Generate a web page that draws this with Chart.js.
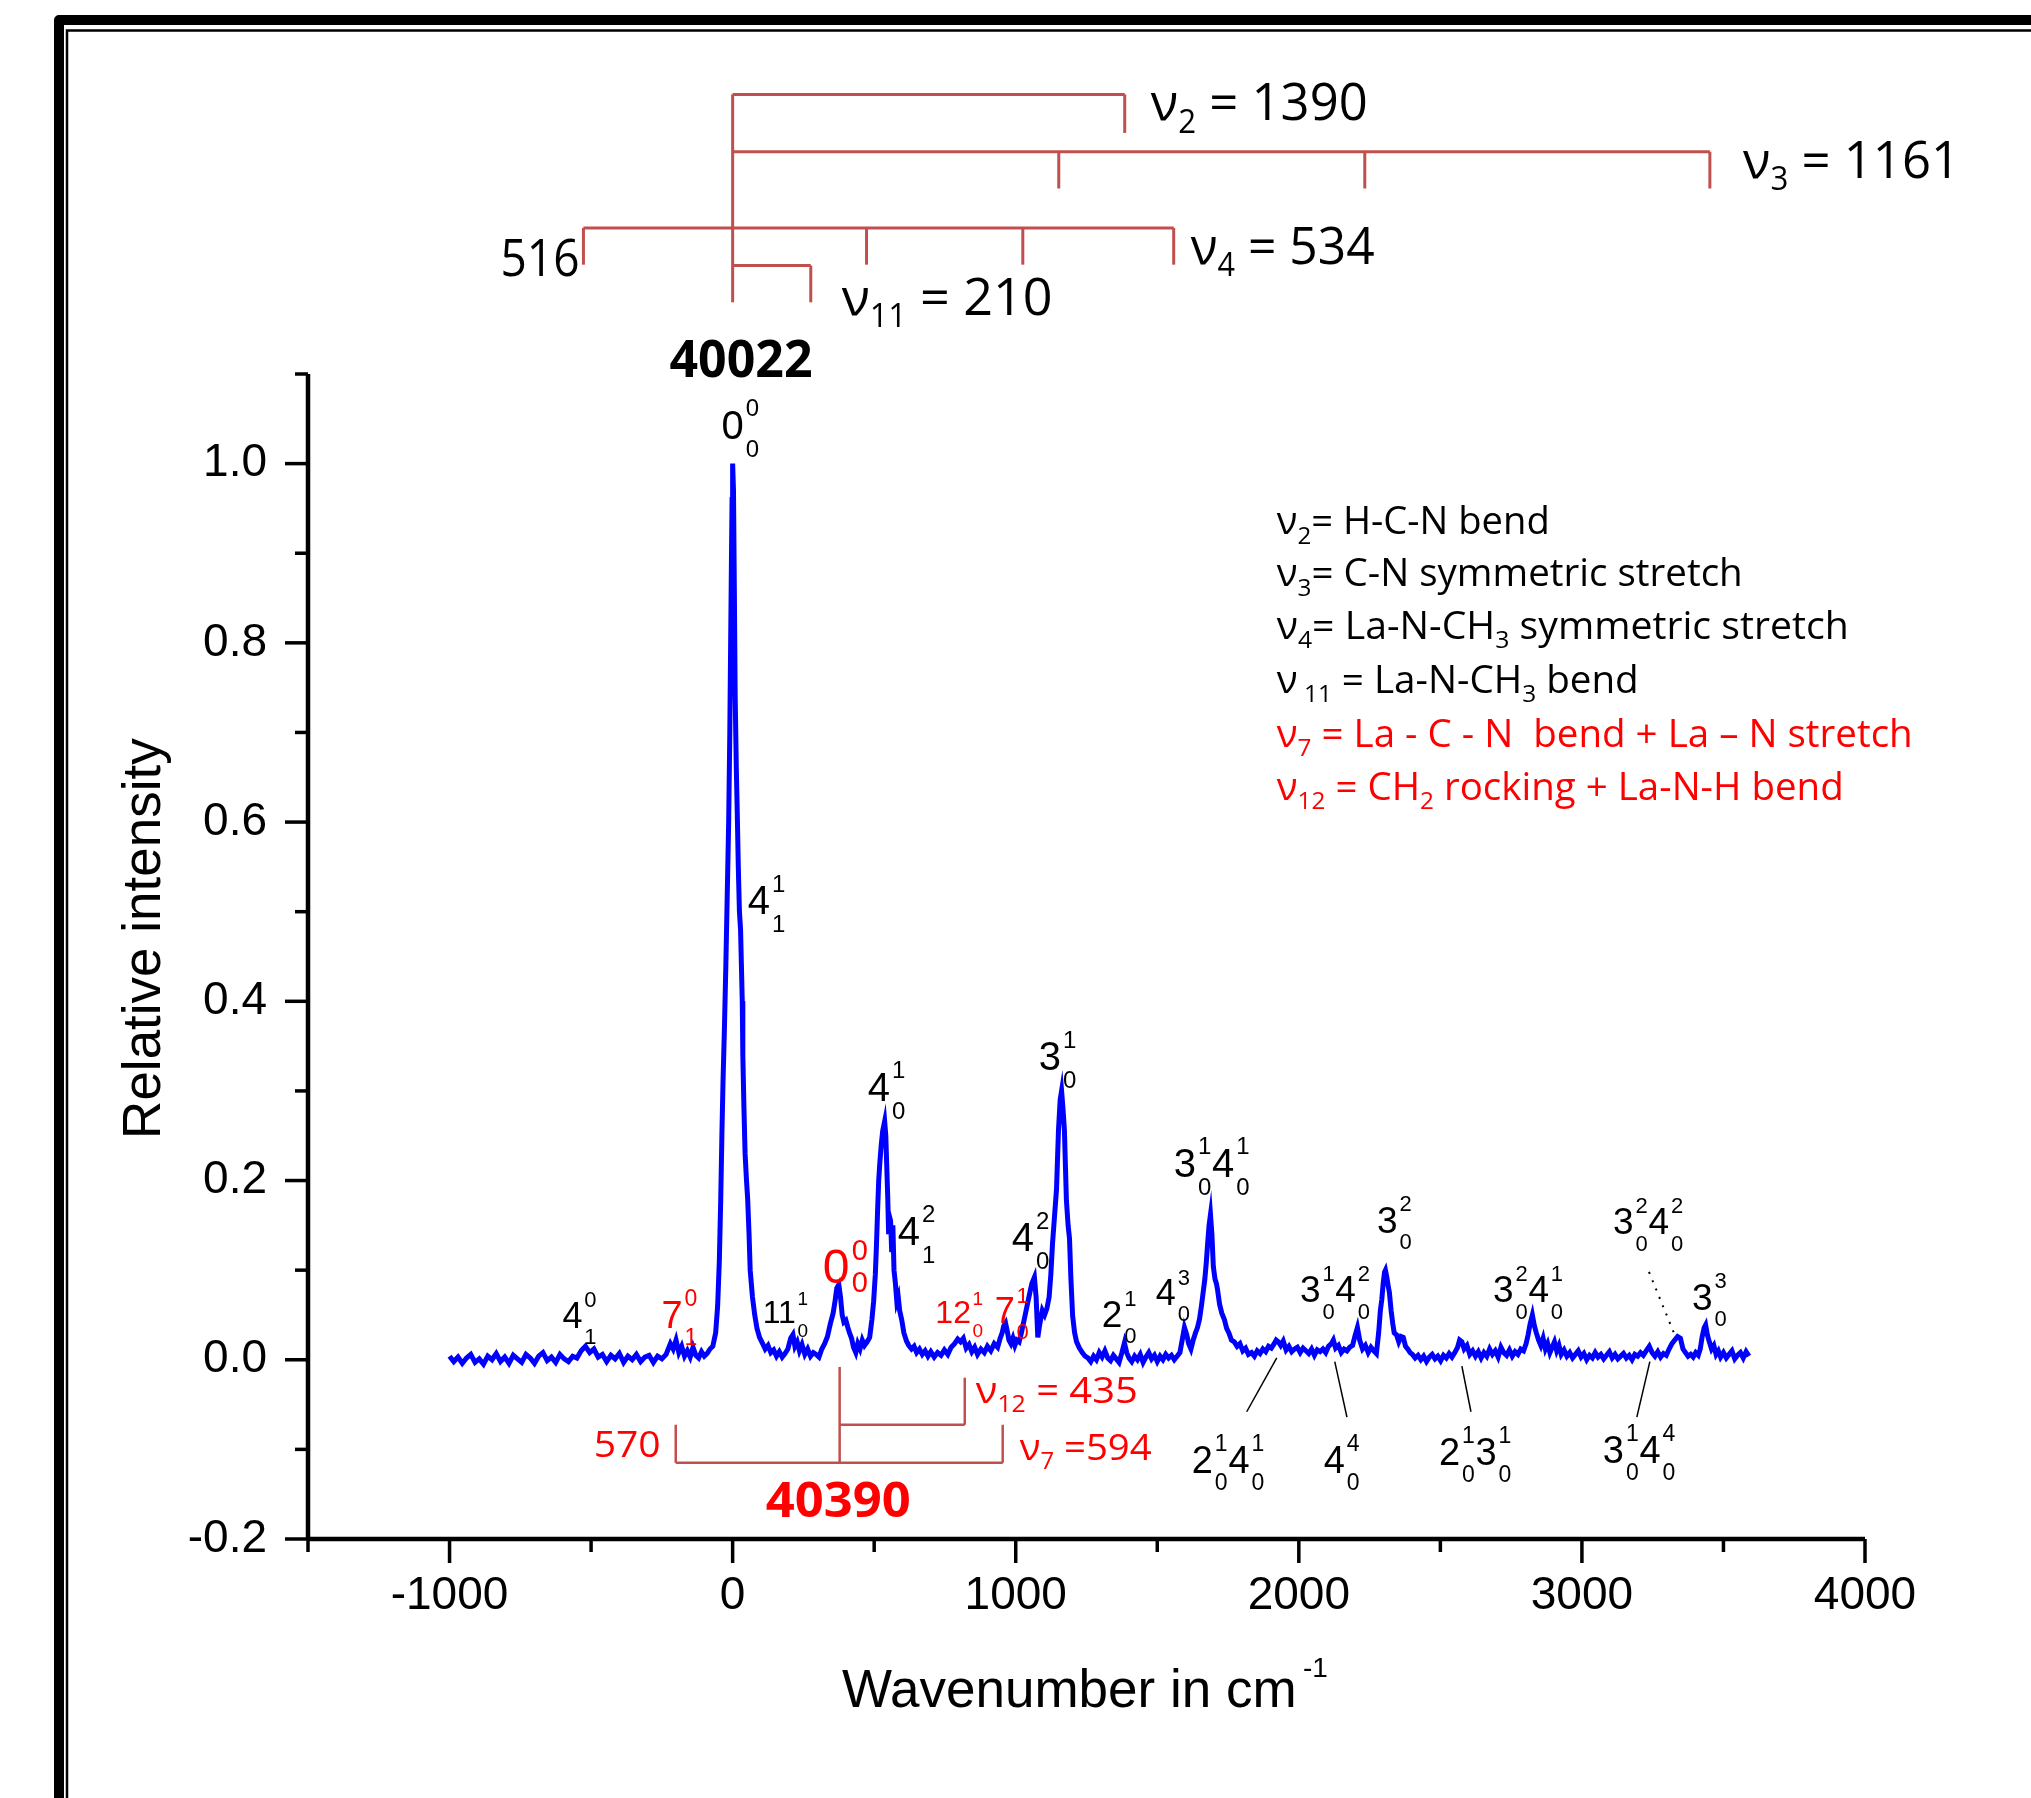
<!DOCTYPE html>
<html>
<head>
<meta charset="utf-8">
<style>
  html, body { margin: 0; padding: 0; background: #fff; }
  canvas { display: block; }
</style>
<script src="https://cdn.jsdelivr.net/npm/chart.js@4.4.1/dist/chart.umd.min.js"></script>
</head>
<body>
<canvas id="spectrum" width="2031" height="1798"></canvas>
<script>
// spectrum (cm-1 relative to 40022, relative intensity)
const wavenumber = [
  -1000, -985, -970, -955, -940, -925, -910, -895, -880, -865,
  -850, -835, -820, -805, -790, -775, -760, -745, -730, -715,
  -700, -685, -670, -655, -640, -625, -610, -595, -580, -565,
  -550, -535, -520, -505, -490, -475, -460, -445, -430, -415,
  -400, -385, -370, -355, -340, -325, -310, -295, -280, -265,
  -250, -235, -220, -210, -200, -190, -180, -170, -160, -150,
  -140, -130, -120, -110, -100, -90, -80, -70, -60, -53,
  -47, -42, -38, -34, -29, -24, -19, -14, -10, -7,
  -4, -2, 0, 3, 6, 9, 13, 17, 20, 24,
  28, 31, 34, 36, 40, 44, 49, 53, 58, 62,
  70, 78, 86, 95, 106, 115, 125, 135, 145, 155,
  165, 175, 185, 195, 205, 213, 220, 228, 236, 245,
  255, 265, 275, 285, 295, 305, 315, 325, 335, 345,
  355, 362, 368, 375, 381, 387, 393, 400, 407, 413,
  420, 427, 435, 442, 450, 458, 466, 475, 484, 492,
  498, 504, 508, 512, 516, 520, 525, 530, 537, 541,
  544, 548, 551, 554, 558, 562, 566, 570, 575, 580,
  585, 590, 597, 605, 614, 622, 632, 641, 650, 660,
  670, 680, 690, 700, 712, 724, 736, 748, 760, 772,
  784, 795, 805, 815, 825, 835, 845, 855, 865, 877,
  889, 900, 912, 924, 936, 945, 952, 958, 964, 970,
  976, 983, 990, 997, 1004, 1012, 1020, 1030, 1040, 1050,
  1057, 1066, 1072, 1078, 1085, 1094, 1102, 1110, 1118, 1124,
  1130, 1137, 1144, 1151, 1157, 1162, 1167, 1172, 1179, 1185,
  1190, 1195, 1201, 1208, 1215, 1225, 1235, 1245, 1255, 1265,
  1275, 1285, 1295, 1305, 1315, 1325, 1335, 1345, 1355, 1365,
  1375, 1384, 1392, 1400, 1410, 1420, 1430, 1440, 1450, 1460,
  1470, 1480, 1490, 1500, 1510, 1520, 1530, 1540, 1550, 1560,
  1570, 1580, 1588, 1596, 1604, 1611, 1619, 1627, 1635, 1642,
  1649, 1656, 1662, 1668, 1673, 1678, 1683, 1688, 1693, 1698,
  1704, 1709, 1713, 1720, 1728, 1737, 1745, 1753, 1762, 1772,
  1782, 1792, 1802, 1812, 1822, 1833, 1843, 1853, 1863, 1873,
  1883, 1893, 1903, 1913, 1920, 1928, 1936, 1945, 1955, 1965,
  1975, 1985, 1995, 2005, 2015, 2025, 2035, 2045, 2055, 2065,
  2075, 2085, 2095, 2105, 2115, 2122, 2130, 2140, 2150, 2160,
  2170, 2180, 2190, 2198, 2207, 2215, 2225, 2235, 2245, 2255,
  2265, 2274, 2282, 2288, 2293, 2298, 2303, 2306, 2311, 2316,
  2320, 2326, 2332, 2337, 2345, 2353, 2361, 2369, 2377, 2385,
  2393, 2401, 2411, 2421, 2431, 2441, 2451, 2461, 2471, 2481,
  2491, 2501, 2511, 2521, 2531, 2541, 2551, 2561, 2568, 2576,
  2584, 2594, 2604, 2614, 2624, 2634, 2644, 2654, 2664, 2674,
  2684, 2694, 2704, 2714, 2724, 2734, 2744, 2754, 2764, 2774,
  2784, 2794, 2803, 2810, 2817, 2825, 2832, 2839, 2847, 2855,
  2863, 2871, 2879, 2887, 2895, 2903, 2911, 2919, 2927, 2937,
  2947, 2957, 2967, 2977, 2987, 2997, 3007, 3017, 3027, 3037,
  3047, 3057, 3067, 3077, 3087, 3097, 3107, 3117, 3127, 3137,
  3147, 3157, 3167, 3177, 3187, 3197, 3207, 3217, 3227, 3238,
  3248, 3258, 3268, 3278, 3288, 3298, 3308, 3318, 3328, 3338,
  3348, 3357, 3366, 3375, 3384, 3393, 3402, 3411, 3418, 3425,
  3432, 3437, 3443, 3450, 3458, 3466, 3474, 3482, 3490, 3500,
  3510, 3520, 3530, 3540, 3550, 3560, 3570, 3580, 3590
];
const intensity = [
  0.004, -0.002, 0.003, -0.004, 0.002, 0.006, -0.003, 0.001, -0.005, 0.004,
  0.000, 0.007, -0.002, 0.003, -0.004, 0.005, 0.001, -0.003, 0.006, 0.002,
  -0.004, 0.004, 0.008, -0.001, 0.003, -0.003, 0.006, 0.001, -0.002, 0.004,
  0.002, 0.010, 0.015, 0.008, 0.012, 0.003, 0.006, -0.002, 0.005, 0.001,
  0.007, -0.003, 0.004, 0.000, 0.006, -0.002, 0.003, 0.005, -0.003, 0.004,
  0.001, 0.006, 0.018, 0.012, 0.022, 0.008, 0.015, 0.004, 0.010, 0.003,
  0.014, 0.005, 0.002, 0.009, 0.004, 0.007, 0.012, 0.015, 0.030, 0.060,
  0.11, 0.18, 0.25, 0.31, 0.37, 0.44, 0.52, 0.60, 0.70, 0.80,
  0.90, 0.96, 1.00, 0.97, 0.86, 0.74, 0.66, 0.60, 0.55, 0.50,
  0.48, 0.44, 0.40, 0.34, 0.28, 0.23, 0.20, 0.18, 0.14, 0.10,
  0.070, 0.050, 0.035, 0.025, 0.018, 0.012, 0.016, 0.008, 0.011, 0.004,
  0.009, 0.003, 0.007, 0.012, 0.024, 0.028, 0.015, 0.020, 0.010, 0.017,
  0.006, 0.012, 0.004, 0.008, 0.006, 0.003, 0.012, 0.018, 0.026, 0.040,
  0.052, 0.066, 0.080, 0.084, 0.070, 0.050, 0.042, 0.044, 0.036, 0.030,
  0.024, 0.014, 0.008, 0.018, 0.012, 0.022, 0.016, 0.020, 0.025, 0.045,
  0.065, 0.095, 0.127, 0.166, 0.200, 0.220, 0.240, 0.255, 0.266, 0.250,
  0.220, 0.180, 0.140, 0.160, 0.155, 0.120, 0.150, 0.100, 0.085, 0.065,
  0.070, 0.055, 0.045, 0.030, 0.021, 0.016, 0.012, 0.015, 0.008, 0.012,
  0.006, 0.010, 0.004, 0.009, 0.003, 0.008, 0.005, 0.011, 0.006, 0.014,
  0.018, 0.023, 0.020, 0.024, 0.013, 0.017, 0.009, 0.014, 0.006, 0.012,
  0.008, 0.015, 0.010, 0.018, 0.014, 0.024, 0.030, 0.038, 0.041, 0.032,
  0.022, 0.018, 0.024, 0.016, 0.022, 0.020, 0.030, 0.045, 0.060, 0.075,
  0.085, 0.092, 0.070, 0.025, 0.040, 0.055, 0.050, 0.057, 0.070, 0.095,
  0.130, 0.160, 0.190, 0.256, 0.290, 0.300, 0.280, 0.256, 0.178, 0.150,
  0.135, 0.090, 0.049, 0.030, 0.020, 0.013, 0.008, 0.004, 0.002, -0.002,
  0.004, 0.000, 0.008, 0.003, 0.010, 0.002, -0.001, 0.005, 0.001, -0.003,
  0.008, 0.019, 0.008, 0.002, -0.002, 0.004, 0.000, 0.006, -0.003, 0.003,
  0.008, 0.001, 0.005, -0.002, 0.004, 0.000, 0.006, 0.002, 0.005, 0.000,
  0.004, 0.008, 0.022, 0.036, 0.028, 0.018, 0.012, 0.022, 0.030, 0.036,
  0.045, 0.060, 0.075, 0.090, 0.108, 0.130, 0.150, 0.162, 0.140, 0.104,
  0.090, 0.085, 0.078, 0.062, 0.052, 0.045, 0.035, 0.030, 0.022, 0.020,
  0.015, 0.018, 0.010, 0.013, 0.006, 0.008, 0.004, 0.010, 0.007, 0.012,
  0.009, 0.015, 0.013, 0.018, 0.022, 0.020, 0.016, 0.021, 0.011, 0.015,
  0.009, 0.012, 0.014, 0.008, 0.013, 0.010, 0.007, 0.012, 0.005, 0.011,
  0.009, 0.012, 0.008, 0.015, 0.018, 0.022, 0.013, 0.016, 0.008, 0.012,
  0.010, 0.014, 0.016, 0.026, 0.036, 0.022, 0.012, 0.016, 0.008, 0.014,
  0.010, 0.007, 0.030, 0.055, 0.067, 0.085, 0.098, 0.100, 0.092, 0.082,
  0.075, 0.055, 0.040, 0.030, 0.028, 0.020, 0.026, 0.025, 0.015, 0.012,
  0.008, 0.006, 0.002, 0.005, 0.000, 0.004, -0.002, 0.003, 0.006, 0.001,
  0.004, -0.001, 0.005, 0.002, 0.007, 0.003, 0.008, 0.014, 0.022, 0.020,
  0.012, 0.016, 0.006, 0.010, 0.004, 0.009, 0.002, 0.008, 0.004, 0.012,
  0.006, 0.010, 0.003, 0.014, 0.008, 0.005, 0.011, 0.004, 0.009, 0.006,
  0.012, 0.010, 0.018, 0.028, 0.040, 0.050, 0.038, 0.030, 0.022, 0.016,
  0.024, 0.012, 0.018, 0.008, 0.014, 0.020, 0.010, 0.016, 0.006, 0.011,
  0.004, 0.008, 0.002, 0.006, 0.010, 0.003, 0.007, 0.000, 0.005, 0.002,
  0.008, 0.003, 0.006, 0.001, 0.005, 0.009, 0.002, 0.006, 0.001, 0.004,
  0.007, 0.002, 0.005, 0.000, 0.006, 0.004, 0.008, 0.005, 0.010, 0.015,
  0.008, 0.004, 0.009, 0.003, 0.007, 0.005, 0.012, 0.018, 0.022, 0.026,
  0.024, 0.012, 0.008, 0.004, 0.006, 0.003, 0.008, 0.005, 0.012, 0.026,
  0.036, 0.039, 0.028, 0.020, 0.012, 0.016, 0.006, 0.010, 0.003, 0.008,
  0.002, 0.006, 0.010, 0.001, 0.005, 0.008, 0.002, 0.009, 0.004
];

const xTicks = [-1000, 0, 1000, 2000, 3000, 4000];
const xMinorTicks = [-1500, -500, 500, 1500, 2500, 3500];
const yTicks = [-0.2, 0, 0.2, 0.4, 0.6, 0.8, 1.0];
const yMinorTicks = [-0.1, 0.1, 0.3, 0.5, 0.7, 0.9, 1.1];

// progression combs, as drawn above the spectrum (cm-1 from 40022)
const nu2Marks = [1385];
const nu3Marks = [1152, 2233, 3452];
const nu4Marks = [-527, 473, 1025, 1558];
const nu11Marks = [276];
// second origin (40390) comb, drawn below the spectrum
const origin2 = 378;
const nu12Marks = [820];
const nu7Marks = [-201, 954];

const BRACKET = '#C0504D';
const RED = '#FF0000';
const SANS = 'Liberation Sans';
const CAL = 'Open Sans';

// vibronic labels: [base, sup, sub] groups, anchored in data units
const bandLabels = [
  { g: [['0', '0', '0']], x: -39, y: 1.028, s: 40, c: '#000' },
  { g: [['4', '1', '1']], x: 53, y: 0.497, s: 40, c: '#000' },
  { g: [['4', '1', '0']], x: 477, y: 0.289, s: 40, c: '#000' },
  { g: [['3', '1', '0']], x: 1081, y: 0.323, s: 40, c: '#000' },
  { g: [['4', '2', '1']], x: 583, y: 0.128, s: 40, c: '#000' },
  { g: [['4', '2', '0']], x: 986, y: 0.121, s: 40, c: '#000' },
  { g: [['0', '0', '0']], x: 318, y: 0.086, s: 48, c: RED, up: 0.48, dn: 0.2 },
  { g: [['7', '0', '1']], x: -251, y: 0.036, s: 38, c: RED },
  { g: [['11', '1', '0']], x: 106, y: 0.041, s: 32, c: '#000' },
  { g: [['12', '1', '0']], x: 716, y: 0.041, s: 32, c: RED },
  { g: [['7', '1', '0']], x: 926, y: 0.041, s: 36, c: RED },
  { g: [['2', '1', '0']], x: 1304, y: 0.037, s: 37, c: '#000' },
  { g: [['4', '0', '1']], x: -601, y: 0.036, s: 36, c: '#000' },
  { g: [['3', '1', '0'], ['4', '1', '0']], x: 1558, y: 0.204, s: 40, c: '#000' },
  { g: [['4', '3', '0']], x: 1495, y: 0.061, s: 36, c: '#000' },
  { g: [['3', '1', '0'], ['4', '2', '0']], x: 2004, y: 0.064, s: 37, c: '#000' },
  { g: [['3', '2', '0']], x: 2276, y: 0.142, s: 37, c: '#000' },
  { g: [['3', '2', '0'], ['4', '1', '0']], x: 2686, y: 0.064, s: 37, c: '#000' },
  { g: [['3', '2', '0'], ['4', '2', '0']], x: 3110, y: 0.140, s: 37, c: '#000' },
  { g: [['3', '3', '0']], x: 3389, y: 0.056, s: 37, c: '#000' },
  { g: [['2', '1', '0'], ['4', '1', '0']], x: 1622, y: -0.126, s: 38, c: '#000' },
  { g: [['4', '4', '0']], x: 2088, y: -0.126, s: 38, c: '#000' },
  { g: [['2', '1', '0'], ['3', '1', '0']], x: 2495, y: -0.117, s: 38, c: '#000' },
  { g: [['3', '1', '0'], ['4', '4', '0']], x: 3074, y: -0.115, s: 38, c: '#000' }
];

// leader lines for the weak bands
const leaders = [
  { a: [1816, -0.058], b: [1922, 0.002] },
  { a: [2170, -0.064], b: [2127, -0.002] },
  { a: [2608, -0.058], b: [2576, -0.007] },
  { a: [3194, -0.064], b: [3240, -0.002] },
  { a: [3237, 0.098], b: [3325, 0.030], dotted: true }
];

// text with sub/superscript runs, squeezed to the measured width
const richTexts = [
  { p: [['ν', 'n'], ['2', 'sub'], [' = 1390', 'n']], x: 1477, y: 1.383, s: 52, w: 217, c: '#000' },
  { p: [['ν', 'n'], ['3', 'sub'], [' = 1161', 'n']], x: 3569, y: 1.319, s: 52, w: 217, c: '#000' },
  { p: [['ν', 'n'], ['4', 'sub'], [' = 534', 'n']], x: 1618, y: 1.223, s: 52, w: 184, c: '#000' },
  { p: [['ν', 'n'], ['11', 'sub'], [' = 210', 'n']], x: 385, y: 1.166, s: 52, w: 211, c: '#000' },
  { p: [['516', 'n']], x: -820, y: 1.209, s: 52, w: 79, c: '#000' },
  { p: [['40022', 'n']], x: -223, y: 1.097, s: 52, w: 143, c: '#000', bold: true },
  { p: [['ν', 'n'], ['2', 'sub'], ['= H-C-N bend', 'n']], x: 1922, y: 0.921, s: 38, w: 273, c: '#000' },
  { p: [['ν', 'n'], ['3', 'sub'], ['= C-N symmetric stretch', 'n']], x: 1922, y: 0.863, s: 38, w: 466, c: '#000' },
  { p: [['ν', 'n'], ['4', 'sub'], ['= La-N-CH', 'n'], ['3', 'sub'], [' symmetric stretch', 'n']], x: 1922, y: 0.804, s: 38, w: 572, c: '#000' },
  { p: [['ν', 'n'], [' 11', 'sub'], [' = La-N-CH', 'n'], ['3', 'sub'], [' bend', 'n']], x: 1922, y: 0.744, s: 38, w: 362, c: '#000' },
  { p: [['ν', 'n'], ['7', 'sub'], [' = La - C - N  bend + La \u2013 N stretch', 'n']], x: 1922, y: 0.684, s: 38, w: 636, c: RED },
  { p: [['ν', 'n'], ['12', 'sub'], [' = CH', 'n'], ['2', 'sub'], [' rocking + La-N-H bend', 'n']], x: 1922, y: 0.625, s: 38, w: 567, c: RED },
  { p: [['570', 'n']], x: -491, y: -0.109, s: 37, w: 67, c: RED },
  { p: [['ν', 'n'], ['12', 'sub'], [' = 435', 'n']], x: 859, y: -0.048, s: 37, w: 162, c: RED },
  { p: [['ν', 'n'], ['7', 'sub'], [' =594', 'n']], x: 1014, y: -0.112, s: 37, w: 132, c: RED },
  { p: [['40390', 'n']], x: 117, y: -0.176, s: 49, w: 145, c: RED, bold: true }
];

function seg(ctx, x1, y1, x2, y2) {
  ctx.beginPath();
  ctx.moveTo(x1, y1);
  ctx.lineTo(x2, y2);
  ctx.stroke();
}

function drawRich(ctx, t, x, y) {
  const wt = t.bold ? 'bold ' : '';
  const fontOf = k => wt + Math.round(k === 'n' ? t.s : t.s * 0.62) + 'px "' + CAL + '"';
  let total = 0;
  const ws = t.p.map(p => {
    ctx.font = fontOf(p[1]);
    const w = ctx.measureText(p[0]).width;
    total += w;
    return w;
  });
  const sx = t.w ? t.w / total : 1;
  ctx.save();
  ctx.translate(x, y);
  ctx.scale(sx, 1);
  ctx.fillStyle = t.c;
  ctx.textAlign = 'left';
  ctx.textBaseline = 'alphabetic';
  let cx = 0;
  t.p.forEach((p, i) => {
    ctx.font = fontOf(p[1]);
    const dy = p[1] === 'sub' ? t.s * 0.24 : (p[1] === 'sup' ? -t.s * 0.42 : 0);
    ctx.fillText(p[0], cx, dy);
    cx += ws[i];
  });
  ctx.restore();
}

function drawBand(ctx, lab, x, y) {
  const small = Math.round(lab.s * 0.6);
  const up = lab.up || 0.57, dn = lab.dn || 0.45;
  ctx.save();
  ctx.fillStyle = lab.c;
  ctx.textAlign = 'left';
  ctx.textBaseline = 'alphabetic';
  let cx = x;
  lab.g.forEach(g => {
    ctx.font = lab.s + 'px "' + SANS + '"';
    ctx.fillText(g[0], cx, y);
    cx += ctx.measureText(g[0]).width + lab.s * 0.05;
    ctx.font = small + 'px "' + SANS + '"';
    ctx.fillText(g[1], cx, y - lab.s * up);
    ctx.fillText(g[2], cx, y + lab.s * dn);
    cx += Math.max(ctx.measureText(g[1]).width, ctx.measureText(g[2]).width) + lab.s * 0.02;
  });
  ctx.restore();
}

const decor = {
  id: 'decor',
  beforeDraw(chart) {
    const ctx = chart.ctx;
    ctx.save();
    ctx.fillStyle = '#fff';
    ctx.fillRect(0, 0, chart.width, chart.height);
    // double page frame
    ctx.strokeStyle = '#000';
    ctx.lineJoin = 'round';
    ctx.lineWidth = 10;
    ctx.beginPath();
    ctx.moveTo(59, 1810);
    ctx.lineTo(59, 20);
    ctx.lineTo(2045, 20);
    ctx.stroke();
    ctx.lineJoin = 'miter';
    ctx.lineWidth = 2.5;
    ctx.beginPath();
    ctx.moveTo(67, 1810);
    ctx.lineTo(67, 30.5);
    ctx.lineTo(2045, 30.5);
    ctx.stroke();
    ctx.restore();
  },
  afterDraw(chart) {
    const ctx = chart.ctx;
    const xs = chart.scales.x, ys = chart.scales.y, ca = chart.chartArea;
    const X = v => xs.getPixelForValue(v);
    const Y = v => ys.getPixelForValue(v);
    ctx.save();
    ctx.lineCap = 'butt';

    // axes and tick marks
    ctx.strokeStyle = '#000';
    ctx.lineWidth = 4.5;
    seg(ctx, ca.left, ca.bottom, ca.right, ca.bottom);
    seg(ctx, ca.left, ca.top, ca.left, ca.bottom);
    ctx.lineWidth = 3.5;
    xTicks.forEach(v => seg(ctx, X(v), ca.bottom, X(v), ca.bottom + 24));
    xMinorTicks.forEach(v => seg(ctx, X(v), ca.bottom, X(v), ca.bottom + 13));
    yTicks.forEach(v => seg(ctx, ca.left - 23, Y(v), ca.left, Y(v)));
    yMinorTicks.forEach(v => seg(ctx, ca.left - 13, Y(v), ca.left, Y(v)));

    // axis titles
    ctx.fillStyle = '#000';
    ctx.textBaseline = 'alphabetic';
    ctx.textAlign = 'left';
    ctx.font = '53px "' + SANS + '"';
    ctx.fillText('Wavenumber in cm', ca.left + 534, ca.bottom + 168);
    ctx.font = '28px "' + SANS + '"';
    ctx.fillText('-1', ca.left + 995, ca.bottom + 138);
    ctx.save();
    ctx.translate(ca.left - 148, Y(0.47));
    ctx.rotate(-Math.PI / 2);
    ctx.textAlign = 'center';
    ctx.font = '53px "' + SANS + '"';
    ctx.fillText('Relative intensity', 0, 0);
    ctx.restore();

    // progression combs above the spectrum (origin 40022)
    ctx.strokeStyle = BRACKET;
    ctx.lineWidth = 3;
    seg(ctx, X(0), Y(1.412), X(0), Y(1.180));
    seg(ctx, X(0), Y(1.412), X(nu2Marks[0]), Y(1.412));
    nu2Marks.forEach(v => seg(ctx, X(v), Y(1.412), X(v), Y(1.369)));
    seg(ctx, X(0), Y(1.348), X(nu3Marks[nu3Marks.length - 1]), Y(1.348));
    nu3Marks.forEach(v => seg(ctx, X(v), Y(1.348), X(v), Y(1.307)));
    seg(ctx, X(nu4Marks[0]), Y(1.263), X(nu4Marks[nu4Marks.length - 1]), Y(1.263));
    nu4Marks.forEach(v => seg(ctx, X(v), Y(1.263), X(v), Y(1.222)));
    seg(ctx, X(0), Y(1.221), X(nu11Marks[0]), Y(1.221));
    nu11Marks.forEach(v => seg(ctx, X(v), Y(1.221), X(v), Y(1.180)));

    // combs below the spectrum (origin 40390)
    ctx.lineWidth = 2.5;
    seg(ctx, X(origin2), Y(-0.008), X(origin2), Y(-0.115));
    seg(ctx, X(origin2), Y(-0.0725), X(nu12Marks[0]), Y(-0.0725));
    nu12Marks.forEach(v => seg(ctx, X(v), Y(-0.0725), X(v), Y(-0.020)));
    seg(ctx, X(nu7Marks[0]), Y(-0.115), X(nu7Marks[1]), Y(-0.115));
    nu7Marks.forEach(v => seg(ctx, X(v), Y(-0.115), X(v), Y(-0.0725)));

    // leader lines
    ctx.strokeStyle = '#000';
    leaders.forEach(l => {
      ctx.lineWidth = l.dotted ? 2 : 1.5;
      ctx.setLineDash(l.dotted ? [2, 7] : []);
      seg(ctx, X(l.a[0]), Y(l.a[1]), X(l.b[0]), Y(l.b[1]));
    });
    ctx.setLineDash([]);

    richTexts.forEach(t => drawRich(ctx, t, X(t.x), Y(t.y)));
    bandLabels.forEach(l => drawBand(ctx, l, X(l.x), Y(l.y)));
    ctx.restore();
  }
};

new Chart(document.getElementById('spectrum'), {
  type: 'line',
  data: {
    datasets: [{
      data: wavenumber.map((x, i) => ({ x: x, y: intensity[i] })),
      borderColor: '#0000FF',
      borderWidth: 5,
      pointRadius: 0,
      tension: 0,
      fill: false
    }]
  },
  options: {
    responsive: false,
    animation: false,
    devicePixelRatio: 1,
    layout: { padding: { top: 374, right: 166, left: 0, bottom: 0 } },
    plugins: {
      legend: { display: false },
      tooltip: { enabled: false }
    },
    scales: {
      x: {
        type: 'linear',
        min: -1500,
        max: 4000,
        grid: { display: false, drawTicks: false },
        border: { display: false },
        afterFit: s => { s.height = 259; },
        afterBuildTicks: s => { s.ticks = xTicks.map(v => ({ value: v })); },
        ticks: {
          padding: 30,
          color: '#000',
          maxRotation: 0,
          autoSkip: false,
          font: { family: SANS, size: 46 },
          callback: v => String(v)
        }
      },
      y: {
        type: 'linear',
        min: -0.2,
        max: 1.1,
        grid: { display: false, drawTicks: false },
        border: { display: false },
        afterFit: s => { s.width = 308; },
        afterBuildTicks: s => { s.ticks = yTicks.map(v => ({ value: v })); },
        ticks: {
          padding: 41,
          color: '#000',
          font: { family: SANS, size: 46 },
          callback: v => v.toFixed(1)
        }
      }
    }
  },
  plugins: [decor]
});
</script>
</body>
</html>
